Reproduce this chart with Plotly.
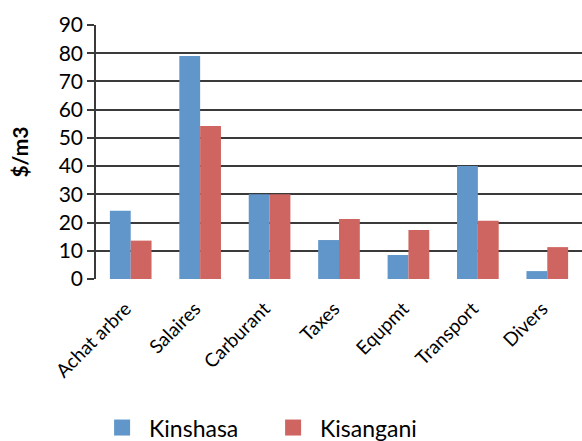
import plotly.graph_objects as go

categories = ["Achat arbre", "Salaires", "Carburant", "Taxes", "Equpmt", "Transport", "Divers"]
kinshasa = [24.2, 79.0, 30.0, 13.8, 8.5, 40.0, 2.8]
kisangani = [13.6, 54.2, 30.0, 21.3, 17.4, 20.6, 11.3]
series_names = ["Kinshasa", "Kisangani"]
colors = ["#6096C9", "#CF6560"]

FONT = "Lato"

fig = go.Figure()
for name, vals, col in zip(series_names, [kinshasa, kisangani], colors):
    fig.add_trace(go.Bar(x=categories, y=vals, name=name, marker_color=col,
                         marker_line_width=0, showlegend=False))
# legend entries with larger square symbols
for name, col in zip(series_names, colors):
    fig.add_trace(go.Scatter(x=[None], y=[None], mode="markers", name=name,
                             marker=dict(symbol="square", size=20, color=col)))

fig.update_layout(
    width=582, height=441,
    margin=dict(l=96, r=0, t=25, b=162, autoexpand=False),
    paper_bgcolor="white", plot_bgcolor="white",
    barmode="group", bargap=0.4, bargroupgap=0,
    font=dict(family=FONT, color="black"),
    showlegend=True,
    legend=dict(orientation="h", x=0.35, xanchor="center", y=-0.585, yanchor="middle",
                font=dict(size=23, family=FONT), itemsizing="trace", itemwidth=44,
                traceorder="normal", entrywidth=112),
)
fig.update_yaxes(range=[0, 90], dtick=10, showgrid=True, gridcolor="#3a3a3a", gridwidth=1.5,
                 showline=True, linecolor="#3a3a3a", linewidth=1.5,
                 ticks="outside", ticklen=7, tickcolor="#3a3a3a", tickwidth=1.5,
                 tickfont=dict(size=21, family=FONT), automargin=False,
                 title=dict(text="<b>$/m3</b>", font=dict(size=21, family=FONT), standoff=24),
                 zeroline=False)
fig.update_xaxes(tickangle=-45, tickfont=dict(size=19, family=FONT), showline=False,
                 ticks="", ticklabelstandoff=14, ticklabelshift=-5, automargin=False)

fig.write_html("out.html", config={"displayModeBar": False},
               post_script="document.body.style.margin='0';document.body.style.overflow='hidden';")
